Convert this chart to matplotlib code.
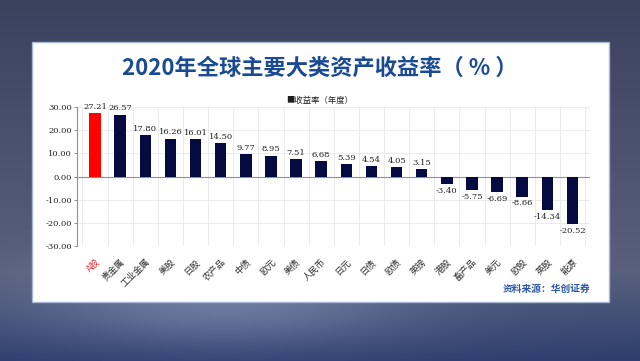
import numpy as np
import matplotlib
matplotlib.use("Agg")
import matplotlib.pyplot as plt
from matplotlib.patches import Rectangle

plt.rcParams['font.family'] = ['Noto Sans CJK SC', 'DejaVu Sans']

categories = ['A股', '贵金属', '工业金属', '美股', '日股', '农产品', '中债', '欧元', '美债', '人民币',
              '日元', '日债', '欧债', '英镑', '港股', '畜产品', '美元', '欧股', '英股', '能源']
values = [27.21, 26.57, 17.80, 16.26, 16.01, 14.50, 9.77, 8.95, 7.51, 6.68,
          5.39, 4.54, 4.05, 3.15, -3.40, -5.75, -6.69, -8.66, -14.34, -20.52]
yticks = [30, 20, 10, 0, -10, -20, -30]
title = '2020年全球主要大类资产收益率（ % ）'
legend_label = '收益率（年度）'
source = '资料来源：华创证券'

fig = plt.figure(figsize=(6.4, 3.61), dpi=100)

# background gradient
bg = fig.add_axes([0, 0, 1, 1])
bg.set_axis_off()
h, w = 361, 640
yy, xx = np.mgrid[0:h, 0:w] / np.array([h, w])[:, None, None]
top = np.array([0x3a, 0x42, 0x5e]) / 255
mid = np.array([0x58, 0x60, 0x7e]) / 255
bot = np.array([0x2e, 0x3e, 0x6e]) / 255
t = yy[..., None]
img = np.where(t < 0.75, top * (1 - t / 0.75) + mid * (t / 0.75),
               mid * (1 - (t - 0.75) / 0.25) + bot * ((t - 0.75) / 0.25))
glow = np.exp(-(((xx - 0.35) / 0.3) ** 2 + ((yy - 0.85) / 0.12) ** 2))[..., None]
img = np.clip(img + glow * 0.15, 0, 1)
bg.imshow(img, extent=[0, 1, 0, 1], aspect='auto', transform=bg.transAxes)
bg.set_xlim(0, 1)
bg.set_ylim(0, 1)
bg.add_patch(Rectangle((0.05, 0.163), 0.902, 0.72, transform=fig.transFigure,
                       facecolor='white', edgecolor='#a8b8d0', linewidth=1.0))

fig.text(0.5, 0.812, title, ha='center', va='center', fontsize=16, fontweight='bold',
         color='#1a4a94')
fig.text(0.5, 0.723, '■' + legend_label, ha='center', va='center', fontsize=6, color='#202020')
fig.text(0.922, 0.20, source, ha='right', va='center', fontsize=7, fontweight='bold',
         color='#2a5aa8')

ax = fig.add_axes([0.121, 0.318, 0.801, 0.386])
x = np.arange(len(categories))
colors = ['#ff0000'] + ['#050a40'] * (len(categories) - 1)
ax.bar(x, values, width=0.46, color=colors, zorder=3)
for xi, v in zip(x, values):
    if v >= 0:
        ax.text(xi, v + 1, f'{v:.2f}', ha='center', va='bottom', fontsize=6,
                family='DejaVu Serif', color='#202020')
    else:
        ax.text(xi, v - 1.2, f'{v:.2f}', ha='center', va='top', fontsize=6,
                family='DejaVu Serif', color='#202020')

ax.set_xlim(-0.7, len(categories) - 0.3)
ax.set_ylim(-30, 30)
ax.set_yticks(yticks)
ax.set_yticklabels([f'{v:.2f}' for v in yticks], fontsize=6, family='DejaVu Serif',
                   color='#202020')
ax.set_xticks(x)
ax.set_xticklabels(categories, rotation=45, ha='right', rotation_mode='anchor',
                   fontsize=6.5, color='#303030')
ax.get_xticklabels()[0].set_color('#e03030')
ax.tick_params(axis='x', length=0, pad=8)
ax.tick_params(axis='y', length=2, width=0.6, color='#808080', pad=2)

ax.set_xticks(np.arange(-0.5, len(categories), 1), minor=True)
ax.grid(True, which='minor', axis='x', color='#e8e8e8', linewidth=0.6, zorder=0)
ax.grid(True, which='major', axis='y', color='#e8e8e8', linewidth=0.6, zorder=0)
ax.tick_params(axis='x', which='minor', length=0)
ax.axhline(0, color='#909090', linewidth=0.8, zorder=2)
for s in ['top', 'right', 'bottom']:
    ax.spines[s].set_visible(False)
ax.spines['left'].set_color('#909090')
ax.spines['left'].set_linewidth(0.8)
ax.set_facecolor('none')

fig.savefig('out.png', dpi=100)
